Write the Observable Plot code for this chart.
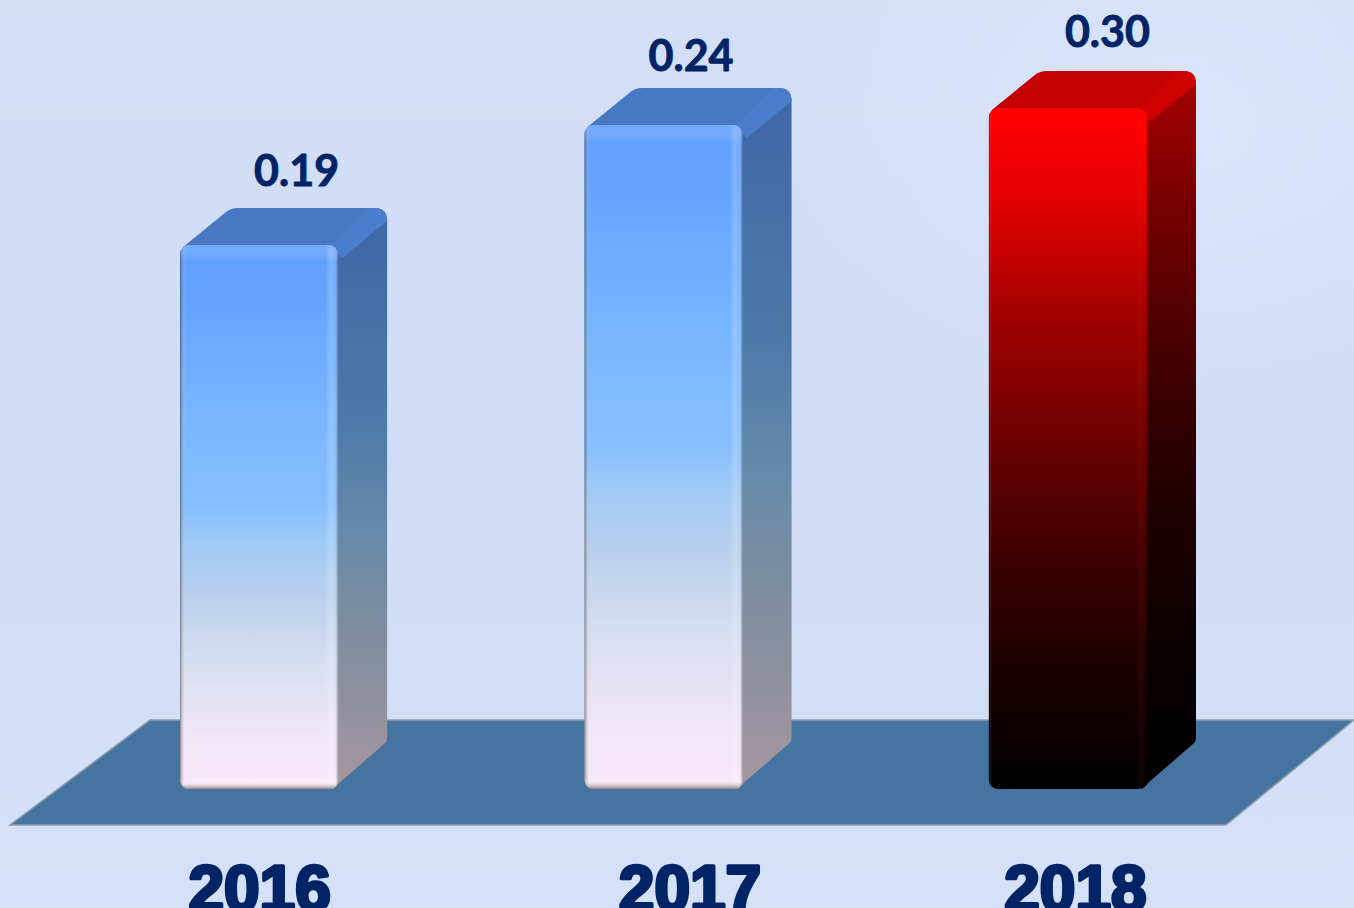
<!DOCTYPE html>
<html>
<head>
<meta charset="utf-8">
<script src="https://cdn.jsdelivr.net/npm/d3@7"></script>
<script src="https://cdn.jsdelivr.net/npm/@observablehq/plot@0.6"></script>
<style>
html,body{margin:0;padding:0;width:1354px;height:908px;overflow:hidden;background:#d4dff8}
svg{display:block}
</style>
</head>
<body>
<div id="chart"></div>
<script>
const years = ["2016", "2017", "2018"];
const values = [0.19, 0.24, 0.30];
const valueLabels = ["0.19", "0.24", "0.30"];
const highlightYear = "2018";

const rows = years.map((year, i) => ({year, value: values[i], label: valueLabels[i]}));

const NAVY = "#012466";
const DEPTH_X = 48, DEPTH_Y = 37;

const stops = (id, list, dir = "v") => `<linearGradient id="${id}" x1="0" y1="0" x2="${dir === "h" ? 1 : 0}" y2="${dir === "h" ? 0 : 1}">` +
  list.map(([o, c, a = 1]) => `<stop offset="${o}" stop-color="${c}" stop-opacity="${a}"/>`).join("") + `</linearGradient>`;

const defs = () => {
  const g = document.createElementNS("http://www.w3.org/2000/svg", "g");
  g.innerHTML = `<defs>` +
    stops("blueFront", [[0,"#5f9eff"],[0.12,"#66a6ff"],[0.38,"#7fbaff"],[0.48,"#86beff"],[0.55,"#a0caf6"],[0.64,"#b8d0ee"],[0.76,"#d6ddf0"],[0.9,"#efe6f6"],[1,"#f8e9f8"]]) +
    stops("blueSide", [[0,"#3f68a6"],[0.35,"#4b79a8"],[0.55,"#668aa9"],[0.75,"#838e9f"],[1,"#a6979f"]]) +
    stops("redFront", [[0,"#ff0000"],[0.12,"#e80000"],[0.3,"#a40000"],[0.5,"#680000"],[0.68,"#380000"],[0.85,"#160000"],[1,"#000000"]]) +
    stops("redSide", [[0,"#a40000"],[0.15,"#7e0000"],[0.35,"#4e0000"],[0.55,"#260000"],[0.8,"#0a0000"],[1,"#000000"]]) +
    stops("edgeH", [[0,"#303030",0.55],[0.012,"#707070",0.3],[0.035,"#ffffff",0],[0.92,"#ffffff",0],[0.95,"#ffffff",0.2],[0.98,"#ffffff",0.12],[1,"#202020",0.4]], "h") +
    stops("edgeV", [[0,"#ffffff",0.12],[0.015,"#ffffff",0.12],[0.03,"#ffffff",0],[0.975,"#ffffff",0],[0.988,"#ffffff",0.15],[1,"#403030",0.55]]) +
    stops("redEdge", [[0,"#200000",0.25],[0.02,"#ffffff",0],[0.92,"#ff4040",0],[0.96,"#ff4040",0.06],[1,"#ff4040",0]], "h") +
    `</defs>`;
  return g;
};

const floor = (index, {x, y}) => {
  const bw = x.bandwidth();
  const left = x(years[0]), right = x(years[years.length - 1]) + bw, y0 = y(0);
  const p = d3.path();
  p.moveTo(left - 170, y0 + 36);
  p.lineTo(right + 79, y0 + 36);
  p.lineTo(right + 207, y0 - 69);
  p.lineTo(left - 30, y0 - 69);
  p.closePath();
  const el = document.createElementNS("http://www.w3.org/2000/svg", "path");
  el.setAttribute("d", p.toString());
  el.setAttribute("fill", "#4674a1");
  el.setAttribute("stroke", "#8f9ea8");
  el.setAttribute("stroke-width", "1.5");
  return el;
};

// Front face is a Plot bar; its render hook adds the side and top faces from the same scales.
const bars = (filter, front, side, topFill, bevel, edgeIds) => Plot.barY(rows, {
  filter,
  x: "year",
  y: "value",
  fill: `url(#${front})`,
  rx: 9,
  render(index, scales, vals, dims, ctx, next) {
    const g = document.createElementNS("http://www.w3.org/2000/svg", "g");
    const bw = scales.x.bandwidth();
    const add = (d, fill) => {
      const el = document.createElementNS("http://www.w3.org/2000/svg", "path");
      el.setAttribute("d", d);
      el.setAttribute("fill", fill);
      g.appendChild(el);
    };
    const y0 = scales.y(0);
    for (const i of index) {
      const d = rows[i];
      const x0 = scales.x(d.year), x1 = x0 + bw, yt = scales.y(d.value);
      const bx = x1 + DEPTH_X, by = yt - DEPTH_Y;
      add(`M${x1 - 6},${yt + 6} L${bx - 2},${by + 8} L${bx + 1},${by + 12} L${bx + 1},${y0 - 52} Q${bx + 1},${y0 - 47} ${bx - 2},${y0 - 45} L${x1 + 1},${y0 - 6} Q${x1 - 2},${y0 - 1} ${x1 - 6},${y0} Z`, `url(#${side})`);
      add(`M${x0 + 3},${yt + 6} L${x0 + 3},${yt + 2} L${x0 + 46},${by + 4} Q${x0 + 51},${by} ${x0 + 58},${by} L${bx - 12},${by} Q${bx + 1},${by} ${bx + 1},${by + 13} L${bx - 3},${by + 16} L${x1 - 2},${yt + 12} Z`, topFill);
      add(`M${x1 - 8},${yt + 1} L${bx - 18},${by + 1} L${bx - 12},${by} Q${bx + 1},${by} ${bx + 1},${by + 13} L${x1 + 4},${yt + 13} Z`, bevel);
    }
    g.appendChild(next(index, scales, vals, dims, ctx));
    for (const i of index) {
      const d = rows[i];
      const x0 = scales.x(d.year), yt = scales.y(d.value);
      for (const id of edgeIds) {
        const r = document.createElementNS("http://www.w3.org/2000/svg", "rect");
        r.setAttribute("x", x0); r.setAttribute("y", yt);
        r.setAttribute("width", bw); r.setAttribute("height", y0 - yt);
        r.setAttribute("rx", 9);
        r.setAttribute("fill", `url(#${id})`);
        g.appendChild(r);
      }
    }
    return g;
  }
});

const valueLabel = (i, dx, dy) => Plot.text([rows[i]], {
  x: "year", y: "value", text: "label", dx, dy,
  lineAnchor: "bottom", fontFamily: "Lato", fontWeight: 700, fontSize: 43,
  fill: NAVY, stroke: NAVY, strokeWidth: 0.9
});

const yearLabel = (i, dx) => Plot.text([rows[i]], {
  x: "year", y: () => 0, text: "year", dx, dy: 121,
  lineAnchor: "bottom", fontFamily: "Liberation Sans", fontWeight: 700, fontSize: 64,
  fill: NAVY, stroke: NAVY, strokeWidth: 3.5
});

const chart = Plot.plot({
  width: 1354,
  height: 908,
  margin: 0,
  style: {
    background: "radial-gradient(ellipse 420px 300px at 1180px 120px,#d9e5fd 0%,rgba(217,229,253,0) 100%),linear-gradient(180deg,#d3dff7 0%,#d1dcf6 50%,#d5e0f9 100%)",
    overflow: "hidden"
  },
  x: {type: "band", domain: years, range: [180, 1147], paddingInner: 0.609, paddingOuter: 0, round: false, axis: null},
  y: {type: "linear", domain: [0, 0.19, 0.24, 0.30], range: [789, 245, 125, 108], axis: null},
  marks: [
    defs,
    floor,
    bars(d => d.year !== highlightYear, "blueFront", "blueSide", "#4878c2", "#4a7dcb", ["edgeH", "edgeV"]),
    bars(d => d.year === highlightYear, "redFront", "redSide", "#c40000", "#d00000", ["redEdge"]),
    valueLabel(0, 37, -60),
    valueLabel(1, 27, -55),
    valueLabel(2, 39, -62),
    yearLabel(0, 0),
    yearLabel(1, 26),
    yearLabel(2, 7)
  ]
});
document.getElementById("chart").appendChild(chart);
</script>
</body>
</html>
